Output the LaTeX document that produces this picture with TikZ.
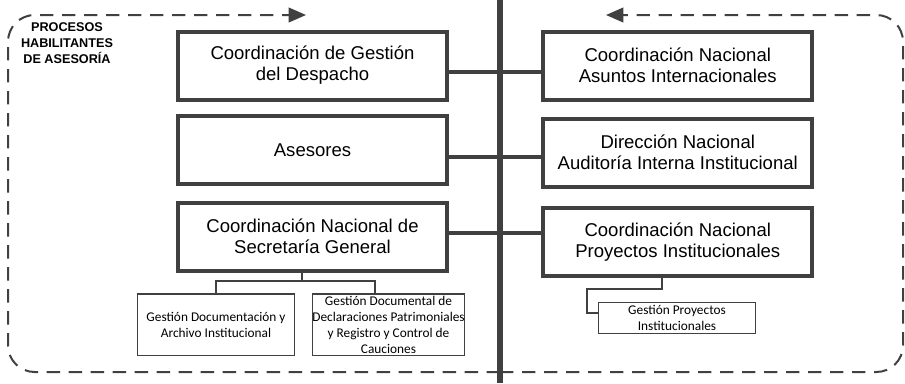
\documentclass[tikz,border=0pt]{standalone}
\usepackage{fontspec}
\setmainfont{Liberation Sans}
\newfontfamily\calib{Carlito}
\usetikzlibrary{arrows.meta}
\definecolor{ln}{HTML}{404040}
\tikzset{
  mainbox/.style={draw=ln, line width=3pt, minimum width=202pt, minimum height=51pt, inner sep=0pt, align=center, font=\fontsize{13.9}{15.75}\selectfont},
  subbox/.style={draw=ln, line width=1.1pt, inner sep=0pt, align=center, font=\calib\fontsize{10}{12}\selectfont},
  hconn/.style={draw=ln, line width=2.6pt},
  thinconn/.style={draw=ln, line width=1.1pt},
  frame/.style={draw=ln, line width=1.5pt, dash pattern=on 10pt off 6.5pt, rounded corners=20pt, -{Triangle[length=13pt,width=11pt]}},
  midline/.style={draw=ln, line width=4.5pt},
  lbl/.style={align=center, inner sep=0pt, font=\bfseries\fontsize{9.5}{12}\selectfont}
}
\begin{document}
\begin{tikzpicture}[x=0.75pt,y=-0.75pt]
\useasboundingbox (0,0) rectangle (905,383);
% frame coordinates
\coordinate (bm) at (500,372);
\coordinate (tl) at (8,15);
\coordinate (tr) at (903,15);
\coordinate (aL) at (306,15);
\coordinate (aR) at (606,15);
\draw[frame] (bm) -| (tl) -- (aL);
\draw[frame] (bm) -| (tr) -- (aR);
% label
\node[lbl] (lab) at (67,43.5) {PROCESOS\\HABILITANTES\\DE ASESORÍA};
% main boxes
\node[mainbox] (L1) at (312.5,65.5) {Coordinación de Gestión\\del Despacho};
\node[mainbox] (L2) at (312.5,150) {Asesores};
\node[mainbox] (L3) at (312.5,236.5) {Coordinación Nacional de\\Secretaría General};
\node[mainbox] (R1) at (677.75,65.5) {Coordinación Nacional\\Asuntos Internacionales};
\node[mainbox] (R2) at (677.75,152.5) {Dirección Nacional\\Auditoría Interna Institucional};
\node[mainbox] (R3) at (677.75,242) {Coordinación Nacional\\Proyectos Institucionales};
% sub boxes
\node[subbox, minimum width=117.4pt, minimum height=46.1pt] (S1) at (216,324.5) {Gestión Documentación y\\Archivo Institucional};
\node[subbox, minimum width=113.6pt, minimum height=46.1pt] (S2) at (388.5,324.5) {Gestión Documental de\\Declaraciones Patrimoniales\\y Registro y Control de\\Cauciones};
\node[subbox, minimum width=117.4pt, minimum height=22.9pt] (SR) at (677,318) {Gestión Proyectos\\Institucionales};
% center line
\coordinate (ctop) at (500,0);
\coordinate (cbot) at (500,383);
% horizontal connectors
\coordinate (h1) at (500,72);
\coordinate (h2) at (500,157);
\coordinate (h3) at (500,233);
\draw[hconn] (L1.east |- h1) -- (R1.west |- h1);
\draw[hconn] (L2.east |- h2) -- (R2.west |- h2);
\draw[hconn] (L3.east |- h3) -- (R3.west |- h3);
\draw[midline] (ctop) -- (cbot);
% sub connectors left
\coordinate (j0) at (302,281);
\coordinate (j2) at (375,281);
\draw[thinconn] (L3.south -| j0) -- (j0);
\draw[thinconn] (S1.north) |- (j2) -- (S2.north -| j2);
% sub connectors right
\coordinate (k1) at (662,289);
\coordinate (k2) at (587,289);
\coordinate (k3) at (587,313);
\draw[thinconn] (R3.south -| k1) -- (k1) -- (k2) -- (k3) -- (SR.west |- k3);
\end{tikzpicture}
\end{document}
